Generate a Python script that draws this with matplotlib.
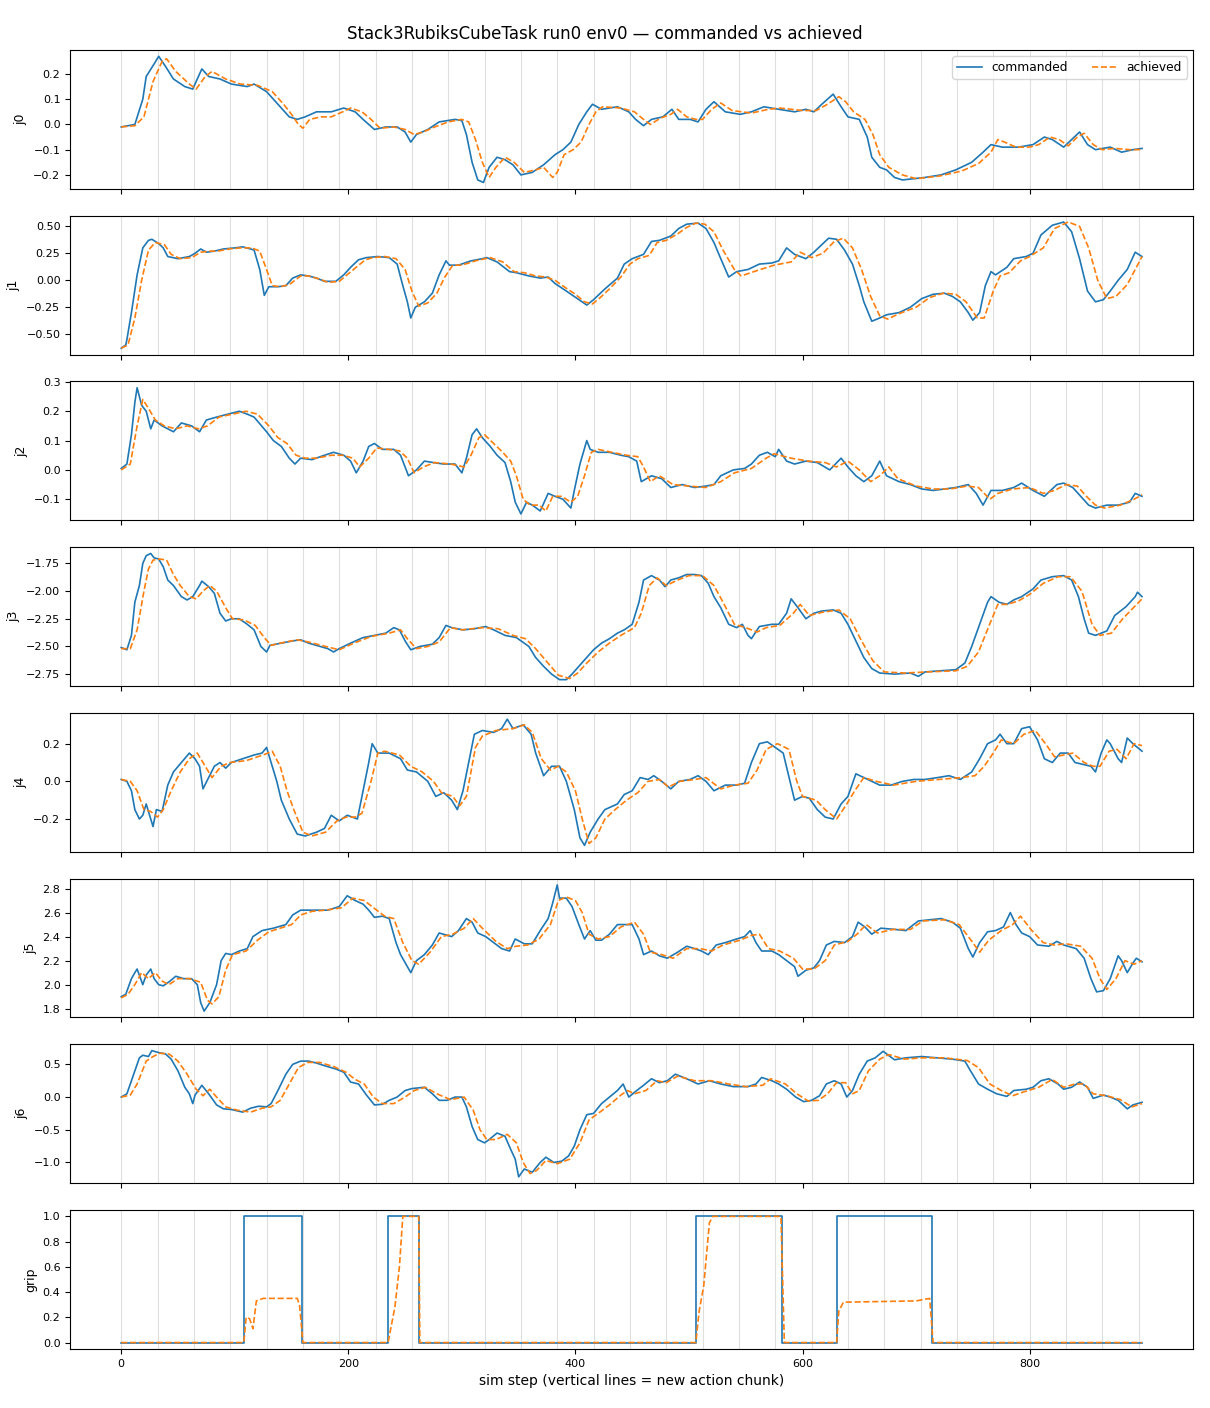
import numpy as np
import matplotlib.pyplot as plt

# keypoints: (sim step, joint value)
j0_cmd = [(0, -0.01), (12, 0.0), (19, 0.1), (22, 0.19), (29, 0.24), (33, 0.27), (39, 0.23), (46, 0.18), (56, 0.15),
          (63, 0.14), (71, 0.22), (77, 0.19), (87, 0.18), (97, 0.16), (111, 0.15), (117, 0.16), (128, 0.13),
          (138, 0.08), (148, 0.03), (155, 0.02), (162, 0.03), (172, 0.05), (185, 0.05), (196, 0.065), (206, 0.05),
          (213, 0.02), (223, -0.02), (233, -0.01), (243, -0.01), (250, -0.03), (255, -0.07), (260, -0.04),
          (270, -0.02), (280, 0.01), (294, 0.02), (300, 0.015), (304, -0.04), (309, -0.15), (314, -0.22),
          (319, -0.23), (324, -0.17), (331, -0.13), (338, -0.14), (345, -0.16), (352, -0.2), (362, -0.19),
          (372, -0.16), (382, -0.12), (389, -0.1), (396, -0.07), (403, 0.0), (410, 0.05), (415, 0.08), (423, 0.06),
          (437, 0.07), (447, 0.05), (453, 0.02), (460, -0.005), (467, 0.02), (477, 0.03), (485, 0.06), (491, 0.02),
          (501, 0.02), (508, 0.01), (515, 0.06), (522, 0.09), (532, 0.05), (545, 0.04), (555, 0.05), (566, 0.07),
          (579, 0.06), (593, 0.05), (603, 0.06), (610, 0.05), (617, 0.08), (627, 0.12), (634, 0.07), (640, 0.03),
          (650, 0.02), (657, -0.05), (661, -0.13), (668, -0.17), (674, -0.18), (681, -0.21), (688, -0.22),
          (698, -0.215), (708, -0.21), (722, -0.2), (735, -0.18), (749, -0.15), (759, -0.11), (766, -0.08),
          (776, -0.09), (790, -0.09), (803, -0.08), (813, -0.05), (820, -0.06), (830, -0.09), (837, -0.06),
          (844, -0.03), (851, -0.08), (858, -0.1), (871, -0.09), (881, -0.11), (891, -0.1), (899, -0.095)]
j0_ach = [(0, -0.01), (12, -0.005), (20, 0.03), (28, 0.17), (36, 0.25), (40, 0.26), (48, 0.21), (60, 0.16),
          (66, 0.14), (74, 0.19), (80, 0.21), (92, 0.18), (105, 0.16), (120, 0.155), (133, 0.13), (143, 0.08),
          (150, 0.04), (156, 0.0), (160, -0.015), (166, 0.02), (176, 0.03), (185, 0.03), (195, 0.05), (202, 0.065),
          (212, 0.05), (220, 0.02), (228, -0.015), (240, -0.01), (250, -0.02), (258, -0.04), (266, -0.03),
          (276, -0.01), (288, 0.01), (300, 0.02), (306, 0.01), (312, -0.06), (318, -0.15), (324, -0.21),
          (330, -0.17), (338, -0.13), (346, -0.15), (355, -0.19), (365, -0.18), (372, -0.17), (380, -0.21),
          (384, -0.19), (390, -0.12), (398, -0.1), (405, -0.07), (412, 0.0), (418, 0.05), (424, 0.07), (440, 0.065),
          (452, 0.05), (460, 0.02), (466, 0.0), (475, 0.025), (484, 0.04), (490, 0.06), (498, 0.03), (506, 0.02),
          (512, 0.02), (520, 0.06), (528, 0.085), (538, 0.055), (555, 0.045), (570, 0.06), (580, 0.065),
          (600, 0.055), (612, 0.055), (622, 0.08), (632, 0.11), (638, 0.09), (645, 0.05), (655, 0.02), (662, -0.04),
          (668, -0.12), (676, -0.17), (688, -0.2), (700, -0.215), (720, -0.205), (740, -0.185), (755, -0.155),
          (766, -0.11), (772, -0.06), (778, -0.07), (788, -0.09), (800, -0.09), (808, -0.08), (818, -0.05),
          (826, -0.06), (834, -0.085), (842, -0.05), (848, -0.035), (856, -0.08), (864, -0.1), (875, -0.095),
          (888, -0.1), (899, -0.1)]

j1_cmd = [(0, -0.63), (4, -0.6), (5, -0.55), (9, -0.3), (14, 0.05), (19, 0.3), (24, 0.37), (27, 0.38), (33, 0.34),
          (37, 0.3), (41, 0.22), (50, 0.2), (60, 0.22), (65, 0.25), (70, 0.29), (75, 0.26), (82, 0.27), (90, 0.29),
          (100, 0.3), (107, 0.31), (114, 0.29), (117, 0.28), (122, 0.1), (126, -0.14), (130, -0.06), (138, -0.06),
          (145, -0.05), (151, 0.02), (158, 0.05), (165, 0.04), (172, 0.02), (179, -0.01), (189, -0.01), (196, 0.05),
          (202, 0.12), (209, 0.19), (216, 0.21), (226, 0.22), (236, 0.21), (243, 0.15), (248, -0.05), (252, -0.2),
          (255, -0.35), (259, -0.25), (267, -0.2), (274, -0.12), (280, 0.05), (286, 0.18), (289, 0.14), (297, 0.14),
          (308, 0.18), (318, 0.2), (322, 0.21), (331, 0.17), (342, 0.08), (348, 0.07), (359, 0.04), (369, 0.02),
          (376, 0.03), (382, -0.03), (392, -0.1), (403, -0.18), (410, -0.23), (416, -0.18), (426, -0.08),
          (437, 0.02), (443, 0.15), (450, 0.2), (460, 0.24), (467, 0.36), (474, 0.37), (484, 0.41), (491, 0.48),
          (498, 0.52), (508, 0.53), (515, 0.48), (522, 0.35), (528, 0.2), (535, 0.03), (542, 0.08), (552, 0.1),
          (562, 0.15), (573, 0.16), (579, 0.18), (586, 0.3), (593, 0.24), (603, 0.2), (610, 0.26), (617, 0.33),
          (623, 0.39), (630, 0.38), (637, 0.28), (644, 0.15), (650, -0.05), (654, -0.2), (661, -0.38), (668, -0.35),
          (674, -0.32), (685, -0.3), (695, -0.25), (705, -0.17), (715, -0.13), (725, -0.12), (732, -0.15),
          (739, -0.2), (746, -0.3), (750, -0.37), (756, -0.3), (761, -0.05), (766, 0.08), (770, 0.05), (780, 0.12),
          (786, 0.2), (797, 0.22), (803, 0.25), (810, 0.42), (820, 0.51), (830, 0.54), (837, 0.45), (844, 0.2),
          (851, -0.1), (858, -0.2), (865, -0.18), (871, -0.1), (878, 0.0), (886, 0.1), (893, 0.26), (899, 0.22)]
j1_ach = [(0, -0.63), (6, -0.6), (12, -0.35), (18, 0.0), (24, 0.28), (30, 0.35), (38, 0.33), (44, 0.24), (52, 0.2),
          (62, 0.21), (70, 0.26), (78, 0.27), (85, 0.27), (95, 0.29), (105, 0.3), (115, 0.3), (122, 0.27),
          (128, 0.1), (133, -0.05), (140, -0.06), (148, -0.04), (158, 0.04), (165, 0.04), (175, 0.01), (182, -0.02),
          (192, -0.01), (200, 0.06), (208, 0.13), (215, 0.19), (222, 0.21), (232, 0.22), (242, 0.2), (250, 0.1),
          (256, -0.1), (262, -0.24), (270, -0.21), (278, -0.12), (285, 0.03), (292, 0.14), (300, 0.14), (312, 0.18),
          (325, 0.21), (336, 0.17), (346, 0.08), (355, 0.07), (365, 0.04), (374, 0.03), (382, 0.0), (390, -0.06),
          (400, -0.13), (408, -0.2), (415, -0.22), (422, -0.16), (430, -0.08), (440, 0.03), (448, 0.15), (455, 0.2),
          (465, 0.23), (472, 0.35), (480, 0.37), (490, 0.43), (498, 0.49), (506, 0.53), (514, 0.52), (522, 0.45),
          (530, 0.28), (540, 0.1), (546, 0.04), (560, 0.09), (575, 0.14), (590, 0.17), (598, 0.26), (608, 0.21),
          (618, 0.25), (628, 0.36), (636, 0.39), (644, 0.3), (652, 0.1), (660, -0.15), (668, -0.33), (675, -0.36),
          (685, -0.31), (700, -0.25), (712, -0.16), (724, -0.12), (735, -0.13), (744, -0.2), (754, -0.35),
          (760, -0.35), (768, -0.1), (774, 0.04), (782, 0.07), (792, 0.18), (800, 0.22), (812, 0.3), (822, 0.48),
          (834, 0.54), (844, 0.5), (852, 0.3), (860, 0.0), (868, -0.17), (876, -0.15), (886, -0.04), (899, 0.22)]

j2_cmd = [(0, 0.005), (5, 0.02), (9, 0.12), (12, 0.23), (14, 0.28), (18, 0.22), (22, 0.2), (26, 0.14), (29, 0.17),
          (36, 0.15), (46, 0.13), (53, 0.16), (62, 0.15), (69, 0.13), (75, 0.17), (84, 0.18), (94, 0.19), (104, 0.2),
          (111, 0.19), (117, 0.18), (128, 0.13), (134, 0.1), (141, 0.08), (148, 0.04), (153, 0.02), (158, 0.04),
          (168, 0.035), (179, 0.05), (187, 0.06), (196, 0.05), (202, 0.03), (207, -0.01), (213, 0.03), (218, 0.08),
          (223, 0.09), (230, 0.07), (240, 0.07), (246, 0.05), (253, -0.02), (260, 0.0), (267, 0.03), (275, 0.025),
          (284, 0.02), (294, 0.02), (300, -0.01), (304, 0.04), (309, 0.12), (313, 0.14), (318, 0.11), (325, 0.08),
          (331, 0.05), (338, 0.025), (343, -0.04), (347, -0.11), (352, -0.15), (357, -0.11), (362, -0.12),
          (369, -0.14), (376, -0.08), (382, -0.09), (389, -0.1), (396, -0.13), (399, -0.07), (404, 0.02),
          (410, 0.1), (413, 0.07), (420, 0.06), (430, 0.06), (440, 0.05), (447, 0.045), (454, 0.03), (458, -0.04),
          (467, -0.02), (476, -0.03), (484, -0.06), (494, -0.05), (505, -0.06), (515, -0.055), (522, -0.05),
          (528, -0.02), (539, 0.0), (549, 0.005), (555, 0.02), (562, 0.05), (569, 0.06), (576, 0.045), (579, 0.07),
          (586, 0.03), (593, 0.02), (603, 0.03), (613, 0.025), (624, 0.0), (634, 0.04), (640, 0.01), (647, -0.02),
          (654, -0.04), (661, -0.02), (668, 0.03), (674, -0.02), (685, -0.04), (695, -0.05), (705, -0.065),
          (715, -0.07), (725, -0.065), (735, -0.06), (746, -0.05), (753, -0.08), (759, -0.12), (766, -0.07),
          (776, -0.07), (786, -0.06), (793, -0.045), (803, -0.07), (813, -0.09), (824, -0.05), (830, -0.045),
          (838, -0.06), (845, -0.09), (852, -0.12), (858, -0.13), (868, -0.12), (878, -0.12), (888, -0.11),
          (893, -0.08), (899, -0.09)]
j2_ach = [(0, 0.0), (8, 0.02), (14, 0.15), (19, 0.24), (24, 0.21), (30, 0.17), (38, 0.15), (48, 0.14), (58, 0.15),
          (68, 0.14), (76, 0.15), (86, 0.18), (98, 0.19), (110, 0.2), (120, 0.19), (130, 0.15), (138, 0.11),
          (146, 0.09), (154, 0.05), (162, 0.04), (172, 0.04), (185, 0.05), (195, 0.05), (204, 0.04), (210, 0.01),
          (218, 0.04), (225, 0.075), (235, 0.07), (245, 0.065), (252, 0.04), (258, -0.01), (266, 0.01),
          (276, 0.025), (290, 0.02), (302, 0.01), (308, 0.05), (315, 0.11), (320, 0.12), (328, 0.09), (336, 0.06),
          (343, 0.03), (348, -0.02), (354, -0.1), (360, -0.12), (368, -0.12), (374, -0.14), (380, -0.09),
          (388, -0.09), (396, -0.11), (402, -0.09), (408, -0.02), (414, 0.06), (420, 0.07), (432, 0.06), (445, 0.05),
          (455, 0.045), (460, 0.01), (466, -0.04), (474, -0.02), (486, -0.05), (500, -0.055), (515, -0.06),
          (528, -0.04), (540, -0.01), (555, 0.005), (568, 0.04), (575, 0.055), (590, 0.04), (605, 0.03),
          (620, 0.025), (630, 0.01), (640, 0.03), (650, 0.0), (660, -0.04), (668, -0.02), (676, 0.01), (684, -0.03),
          (700, -0.055), (715, -0.065), (730, -0.065), (745, -0.055), (755, -0.06), (765, -0.1), (772, -0.08),
          (785, -0.065), (800, -0.06), (812, -0.08), (822, -0.07), (832, -0.05), (842, -0.055), (850, -0.09),
          (858, -0.12), (866, -0.13), (880, -0.12), (892, -0.1), (899, -0.085)]

j3_cmd = [(0, -2.51), (5, -2.53), (9, -2.4), (12, -2.1), (16, -1.95), (19, -1.75), (22, -1.68), (26, -1.66),
          (29, -1.7), (33, -1.71), (37, -1.78), (41, -1.9), (46, -1.95), (53, -2.05), (58, -2.08), (63, -2.05),
          (69, -1.95), (71, -1.91), (77, -1.96), (82, -2.02), (87, -2.2), (92, -2.27), (97, -2.25), (104, -2.25),
          (111, -2.3), (117, -2.35), (123, -2.5), (128, -2.55), (131, -2.49), (141, -2.47), (151, -2.45),
          (158, -2.44), (165, -2.47), (175, -2.5), (182, -2.52), (187, -2.55), (192, -2.52), (202, -2.47),
          (213, -2.42), (223, -2.4), (233, -2.38), (240, -2.33), (245, -2.35), (250, -2.45), (255, -2.53),
          (263, -2.5), (274, -2.48), (280, -2.42), (286, -2.31), (291, -2.33), (301, -2.35), (311, -2.34),
          (321, -2.32), (328, -2.35), (338, -2.4), (348, -2.42), (359, -2.5), (365, -2.6), (372, -2.68),
          (379, -2.75), (386, -2.8), (392, -2.8), (397, -2.75), (403, -2.68), (410, -2.6), (416, -2.53),
          (423, -2.47), (430, -2.43), (437, -2.38), (443, -2.35), (450, -2.3), (456, -2.1), (460, -1.9),
          (467, -1.86), (474, -1.9), (479, -1.96), (484, -1.9), (491, -1.88), (498, -1.85), (505, -1.85),
          (511, -1.86), (517, -1.93), (522, -2.05), (528, -2.15), (535, -2.3), (542, -2.33), (547, -2.3),
          (552, -2.4), (555, -2.43), (562, -2.32), (573, -2.3), (579, -2.3), (586, -2.2), (590, -2.07),
          (596, -2.15), (603, -2.25), (610, -2.2), (617, -2.18), (627, -2.17), (634, -2.2), (640, -2.3),
          (647, -2.45), (654, -2.6), (661, -2.7), (668, -2.74), (681, -2.75), (695, -2.74), (702, -2.77),
          (708, -2.73), (722, -2.72), (735, -2.71), (743, -2.65), (749, -2.5), (756, -2.3), (763, -2.1),
          (766, -2.05), (773, -2.1), (780, -2.12), (786, -2.08), (793, -2.05), (803, -1.98), (810, -1.9),
          (820, -1.87), (830, -1.86), (837, -1.9), (843, -2.05), (848, -2.25), (852, -2.38), (858, -2.4),
          (868, -2.36), (875, -2.22), (885, -2.14), (893, -2.05), (895, -2.01), (899, -2.05)]
j3_ach = [(0, -2.52), (8, -2.52), (14, -2.35), (20, -2.0), (24, -1.8), (28, -1.72), (34, -1.71), (40, -1.72),
          (46, -1.85), (52, -1.95), (60, -2.05), (66, -2.07), (72, -2.0), (78, -1.95), (84, -2.0), (92, -2.15),
          (98, -2.25), (108, -2.26), (118, -2.31), (126, -2.42), (132, -2.49), (140, -2.47), (155, -2.44),
          (165, -2.46), (180, -2.5), (192, -2.53), (205, -2.47), (220, -2.41), (236, -2.38), (246, -2.35),
          (252, -2.43), (260, -2.52), (270, -2.5), (280, -2.46), (290, -2.33), (300, -2.35), (318, -2.33),
          (332, -2.34), (345, -2.4), (356, -2.43), (365, -2.52), (375, -2.64), (385, -2.76), (395, -2.79),
          (402, -2.74), (410, -2.65), (420, -2.55), (430, -2.47), (440, -2.4), (452, -2.33), (458, -2.2),
          (465, -1.95), (472, -1.88), (480, -1.95), (490, -1.9), (500, -1.86), (512, -1.86), (522, -1.95),
          (530, -2.1), (540, -2.3), (550, -2.33), (560, -2.37), (568, -2.33), (580, -2.31), (592, -2.2),
          (598, -2.12), (606, -2.22), (618, -2.19), (632, -2.17), (642, -2.25), (652, -2.45), (662, -2.63),
          (672, -2.73), (690, -2.74), (710, -2.73), (735, -2.72), (745, -2.68), (755, -2.55), (764, -2.32),
          (772, -2.12), (780, -2.12), (790, -2.09), (800, -2.03), (812, -1.93), (825, -1.87), (836, -1.87),
          (846, -2.0), (855, -2.3), (862, -2.4), (872, -2.38), (882, -2.25), (899, -2.07)]

j4_cmd = [(0, 0.01), (5, 0.0), (9, -0.05), (12, -0.15), (16, -0.2), (19, -0.18), (22, -0.12), (26, -0.2),
          (28, -0.24), (31, -0.15), (36, -0.16), (41, -0.02), (46, 0.05), (53, 0.1), (60, 0.15), (65, 0.12),
          (69, 0.08), (72, -0.04), (77, 0.02), (82, 0.08), (87, 0.1), (92, 0.07), (97, 0.1), (107, 0.12),
          (117, 0.14), (124, 0.15), (128, 0.18), (131, 0.12), (137, 0.0), (141, -0.1), (148, -0.2), (155, -0.28),
          (162, -0.29), (172, -0.27), (179, -0.25), (185, -0.18), (192, -0.21), (199, -0.18), (208, -0.2),
          (213, -0.05), (218, 0.1), (221, 0.2), (226, 0.15), (236, 0.15), (246, 0.12), (252, 0.06), (260, 0.05),
          (270, 0.0), (277, -0.08), (284, -0.06), (291, -0.1), (296, -0.15), (301, -0.05), (306, 0.1), (311, 0.25),
          (318, 0.27), (328, 0.26), (335, 0.28), (340, 0.33), (345, 0.28), (354, 0.3), (361, 0.25), (365, 0.15),
          (372, 0.03), (379, 0.08), (386, 0.08), (392, 0.0), (399, -0.15), (404, -0.3), (408, -0.34), (413, -0.27),
          (420, -0.2), (426, -0.15), (437, -0.12), (443, -0.07), (450, -0.05), (457, 0.02), (464, 0.01),
          (469, 0.03), (476, 0.0), (484, -0.04), (491, 0.0), (501, 0.01), (508, 0.03), (515, 0.0), (522, -0.05),
          (532, -0.02), (542, -0.02), (549, -0.01), (555, 0.1), (562, 0.2), (569, 0.21), (576, 0.18), (583, 0.15),
          (587, 0.05), (593, -0.1), (600, -0.08), (606, -0.09), (613, -0.15), (620, -0.19), (627, -0.2),
          (634, -0.12), (640, -0.08), (647, 0.04), (654, 0.02), (661, 0.0), (668, -0.02), (678, -0.02), (688, 0.0),
          (698, 0.01), (708, 0.01), (719, 0.02), (729, 0.03), (739, 0.01), (749, 0.05), (756, 0.12), (763, 0.2),
          (770, 0.22), (774, 0.25), (780, 0.2), (786, 0.2), (793, 0.28), (800, 0.29), (807, 0.22), (813, 0.12),
          (820, 0.1), (827, 0.15), (834, 0.15), (840, 0.1), (847, 0.09), (854, 0.08), (858, 0.05), (863, 0.15),
          (868, 0.22), (871, 0.2), (878, 0.12), (881, 0.1), (886, 0.23), (891, 0.2), (899, 0.16)]
j4_ach = [(0, 0.01), (8, 0.0), (14, -0.05), (20, -0.15), (26, -0.16), (32, -0.19), (37, -0.15), (44, -0.05),
          (52, 0.05), (60, 0.12), (67, 0.15), (74, 0.08), (80, 0.02), (88, 0.08), (96, 0.1), (110, 0.11),
          (125, 0.14), (133, 0.16), (140, 0.08), (146, -0.05), (152, -0.15), (160, -0.27), (168, -0.29),
          (180, -0.27), (190, -0.21), (198, -0.19), (206, -0.19), (212, -0.17), (220, 0.0), (226, 0.15),
          (232, 0.16), (245, 0.14), (255, 0.08), (265, 0.05), (275, 0.0), (282, -0.06), (292, -0.08), (298, -0.13),
          (304, -0.08), (312, 0.18), (318, 0.24), (330, 0.27), (345, 0.28), (355, 0.3), (362, 0.26), (370, 0.12),
          (378, 0.06), (385, 0.08), (392, 0.05), (400, -0.05), (406, -0.2), (412, -0.33), (418, -0.3),
          (426, -0.2), (435, -0.15), (445, -0.1), (455, -0.06), (464, 0.0), (474, 0.01), (482, -0.03), (492, 0.0),
          (505, 0.01), (515, 0.02), (528, -0.04), (540, -0.02), (552, -0.01), (560, 0.06), (568, 0.17), (578, 0.2),
          (588, 0.17), (595, 0.0), (600, -0.08), (612, -0.1), (620, -0.15), (630, -0.2), (638, -0.13),
          (646, -0.05), (654, 0.02), (665, 0.0), (680, -0.02), (700, 0.0), (720, 0.01), (740, 0.02), (752, 0.03),
          (760, 0.08), (768, 0.15), (775, 0.22), (786, 0.2), (795, 0.25), (805, 0.27), (814, 0.2), (822, 0.13),
          (830, 0.14), (838, 0.15), (848, 0.1), (856, 0.08), (862, 0.08), (870, 0.16), (877, 0.17), (885, 0.12),
          (892, 0.2), (899, 0.19)]

j5_cmd = [(0, 1.9), (4, 1.92), (9, 2.05), (12, 2.1), (14, 2.13), (19, 2.0), (22, 2.08), (26, 2.13), (29, 2.05),
          (33, 2.0), (37, 1.99), (43, 2.03), (48, 2.07), (55, 2.05), (62, 2.05), (67, 2.0), (70, 1.85), (73, 1.78),
          (78, 1.85), (84, 2.0), (88, 2.2), (92, 2.26), (97, 2.25), (104, 2.28), (111, 2.3), (116, 2.4),
          (124, 2.45), (134, 2.47), (145, 2.5), (151, 2.58), (158, 2.62), (165, 2.62), (172, 2.62), (182, 2.62),
          (192, 2.65), (199, 2.74), (206, 2.7), (213, 2.67), (218, 2.62), (223, 2.56), (230, 2.57), (236, 2.55),
          (242, 2.35), (246, 2.25), (252, 2.15), (255, 2.1), (260, 2.2), (267, 2.25), (274, 2.33), (280, 2.43),
          (291, 2.4), (297, 2.45), (304, 2.55), (309, 2.52), (314, 2.43), (321, 2.4), (328, 2.35), (335, 2.3),
          (342, 2.28), (347, 2.38), (355, 2.34), (362, 2.34), (369, 2.45), (376, 2.55), (380, 2.68), (384, 2.83),
          (386, 2.72), (392, 2.72), (397, 2.65), (403, 2.5), (408, 2.38), (413, 2.45), (418, 2.37), (423, 2.37),
          (430, 2.42), (437, 2.5), (443, 2.5), (450, 2.5), (456, 2.38), (460, 2.25), (467, 2.28), (474, 2.24),
          (481, 2.22), (490, 2.27), (498, 2.32), (505, 2.3), (511, 2.28), (517, 2.25), (524, 2.33), (532, 2.35),
          (542, 2.38), (549, 2.4), (554, 2.45), (559, 2.35), (564, 2.28), (573, 2.28), (579, 2.25), (586, 2.2),
          (593, 2.15), (596, 2.07), (603, 2.12), (610, 2.14), (615, 2.2), (621, 2.33), (628, 2.36), (637, 2.35),
          (644, 2.4), (649, 2.52), (655, 2.48), (661, 2.42), (669, 2.47), (681, 2.46), (691, 2.45), (702, 2.53),
          (712, 2.54), (722, 2.55), (732, 2.52), (739, 2.47), (746, 2.3), (750, 2.23), (756, 2.35), (763, 2.44),
          (770, 2.45), (777, 2.48), (783, 2.6), (788, 2.5), (793, 2.43), (800, 2.4), (807, 2.33), (817, 2.32),
          (824, 2.36), (830, 2.33), (841, 2.3), (848, 2.22), (854, 2.05), (859, 1.94), (865, 1.95), (871, 2.05),
          (878, 2.24), (881, 2.2), (886, 2.1), (891, 2.18), (894, 2.22), (899, 2.19)]
j5_ach = [(0, 1.89), (6, 1.92), (12, 2.0), (18, 2.1), (24, 2.05), (30, 2.1), (36, 2.03), (42, 2.0), (50, 2.05),
          (60, 2.05), (70, 2.02), (76, 1.87), (80, 1.84), (86, 1.9), (92, 2.12), (98, 2.25), (110, 2.28),
          (120, 2.37), (130, 2.44), (140, 2.47), (150, 2.5), (158, 2.58), (168, 2.61), (180, 2.62), (194, 2.64),
          (204, 2.72), (214, 2.7), (225, 2.62), (232, 2.57), (240, 2.55), (248, 2.35), (256, 2.2), (262, 2.17),
          (272, 2.27), (282, 2.4), (292, 2.42), (302, 2.47), (310, 2.55), (318, 2.47), (330, 2.36), (340, 2.3),
          (348, 2.32), (358, 2.33), (368, 2.38), (378, 2.5), (385, 2.7), (392, 2.73), (400, 2.7), (406, 2.6),
          (412, 2.42), (420, 2.38), (430, 2.4), (440, 2.48), (452, 2.52), (460, 2.42), (466, 2.27), (476, 2.25),
          (486, 2.22), (498, 2.3), (510, 2.3), (520, 2.28), (530, 2.33), (545, 2.37), (555, 2.41), (562, 2.42),
          (570, 2.3), (580, 2.28), (592, 2.22), (600, 2.13), (610, 2.13), (620, 2.2), (628, 2.33), (640, 2.36),
          (648, 2.42), (656, 2.5), (666, 2.43), (680, 2.46), (695, 2.46), (706, 2.53), (725, 2.54), (738, 2.5),
          (750, 2.35), (756, 2.27), (764, 2.37), (775, 2.45), (785, 2.5), (792, 2.57), (802, 2.45), (812, 2.35),
          (822, 2.33), (832, 2.34), (845, 2.32), (855, 2.22), (862, 2.05), (868, 1.96), (876, 2.05), (884, 2.2),
          (892, 2.17), (899, 2.2)]

j6_cmd = [(0, 0.0), (5, 0.05), (10, 0.3), (16, 0.6), (19, 0.64), (24, 0.62), (27, 0.71), (33, 0.68), (39, 0.66),
          (44, 0.58), (50, 0.4), (56, 0.15), (60, 0.05), (63, -0.1), (65, 0.03), (71, 0.18), (77, 0.05),
          (84, -0.12), (90, -0.18), (97, -0.19), (107, -0.23), (114, -0.17), (121, -0.14), (128, -0.15),
          (132, -0.1), (138, 0.1), (145, 0.35), (151, 0.5), (158, 0.55), (165, 0.55), (172, 0.52), (179, 0.48),
          (189, 0.43), (196, 0.38), (202, 0.23), (209, 0.2), (216, 0.03), (223, -0.12), (230, -0.11), (236, -0.05),
          (243, 0.0), (250, 0.1), (256, 0.13), (267, 0.15), (274, 0.05), (280, -0.05), (287, -0.05), (294, 0.0),
          (300, 0.0), (304, -0.15), (309, -0.45), (314, -0.65), (320, -0.7), (324, -0.65), (331, -0.55),
          (338, -0.6), (343, -0.8), (347, -0.95), (350, -1.22), (355, -1.1), (362, -1.15), (369, -1.0),
          (374, -0.92), (381, -1.0), (388, -0.98), (394, -0.9), (399, -0.75), (404, -0.5), (410, -0.27),
          (416, -0.25), (423, -0.1), (430, 0.0), (437, 0.1), (442, 0.2), (447, 0.0), (454, 0.1), (460, 0.18),
          (467, 0.28), (474, 0.22), (481, 0.25), (488, 0.35), (498, 0.28), (508, 0.2), (518, 0.25), (528, 0.2),
          (539, 0.16), (552, 0.16), (559, 0.2), (564, 0.3), (573, 0.25), (579, 0.2), (586, 0.12), (594, 0.0),
          (601, -0.07), (608, -0.05), (615, 0.02), (621, 0.2), (628, 0.25), (634, 0.2), (639, 0.0), (644, 0.1),
          (650, 0.35), (657, 0.55), (664, 0.6), (671, 0.7), (681, 0.57), (691, 0.6), (705, 0.62), (719, 0.6),
          (732, 0.58), (743, 0.55), (748, 0.4), (755, 0.2), (763, 0.12), (771, 0.05), (780, 0.01), (786, 0.1),
          (797, 0.12), (803, 0.15), (810, 0.25), (817, 0.28), (825, 0.2), (830, 0.12), (837, 0.15), (844, 0.23),
          (851, 0.15), (856, -0.02), (865, 0.03), (871, 0.0), (878, -0.05), (886, -0.18), (891, -0.12),
          (899, -0.08)]
j6_ach = [(0, 0.0), (8, 0.03), (14, 0.2), (22, 0.55), (28, 0.62), (34, 0.67), (42, 0.66), (50, 0.55), (58, 0.35),
          (66, 0.12), (72, 0.02), (78, 0.12), (84, 0.0), (92, -0.15), (102, -0.2), (114, -0.23), (124, -0.17),
          (132, -0.15), (140, -0.05), (148, 0.2), (156, 0.45), (164, 0.53), (175, 0.53), (188, 0.46), (198, 0.38),
          (206, 0.27), (214, 0.2), (222, 0.0), (230, -0.1), (240, -0.1), (250, 0.0), (258, 0.1), (268, 0.15),
          (278, 0.05), (290, -0.04), (302, 0.0), (310, -0.2), (316, -0.5), (322, -0.65), (330, -0.65),
          (340, -0.57), (348, -0.7), (354, -1.0), (360, -1.17), (366, -1.12), (374, -0.97), (384, -1.02),
          (395, -0.95), (404, -0.7), (412, -0.35), (420, -0.25), (430, -0.12), (440, 0.03), (446, 0.1), (452, 0.05),
          (462, 0.1), (472, 0.25), (480, 0.22), (490, 0.32), (505, 0.25), (520, 0.25), (535, 0.2), (550, 0.16),
          (565, 0.18), (572, 0.28), (585, 0.2), (595, 0.05), (605, -0.06), (614, -0.05), (622, 0.05), (630, 0.22),
          (638, 0.22), (644, 0.05), (650, 0.1), (658, 0.4), (668, 0.58), (676, 0.65), (690, 0.58), (705, 0.6),
          (725, 0.6), (745, 0.56), (755, 0.45), (765, 0.2), (775, 0.1), (785, 0.02), (795, 0.08), (808, 0.15),
          (820, 0.27), (830, 0.15), (840, 0.2), (848, 0.2), (856, 0.05), (868, 0.02), (880, -0.04), (890, -0.15),
          (899, -0.1)]

grip_cmd = [(0, 0), (108, 0), (108, 1), (159, 1), (159, 0), (235, 0), (235, 1), (262, 1), (262, 0), (506, 0),
            (506, 1), (582, 1), (582, 0), (630, 0), (630, 1), (714, 1), (714, 0), (899, 0)]
grip_ach = [(0, 0), (108, 0), (110, 0.2), (113, 0.19), (116, 0.11), (119, 0.33), (125, 0.35), (155, 0.35),
            (157, 0.3), (160, 0), (235, 0), (241, 0.28), (245, 0.6), (248, 1.0), (262, 1.0), (263, 0), (506, 0),
            (509, 0.25), (513, 0.45), (518, 0.95), (521, 1.0), (581, 1.0), (584, 0), (630, 0), (632, 0.25),
            (636, 0.32), (700, 0.33), (712, 0.35), (715, 0), (899, 0)]

panels = [("j0", j0_cmd, j0_ach), ("j1", j1_cmd, j1_ach), ("j2", j2_cmd, j2_ach), ("j3", j3_cmd, j3_ach),
          ("j4", j4_cmd, j4_ach), ("j5", j5_cmd, j5_ach), ("j6", j6_cmd, j6_ach), ("grip", grip_cmd, grip_ach)]

chunk_len = 32
n_steps = 900
chunk_starts = np.arange(0, n_steps, chunk_len)

fig, axes = plt.subplots(len(panels), 1, figsize=(12.1, 14.08), dpi=100, sharex=True)
plt.subplots_adjust(left=0.058, right=0.986, top=0.9645, bottom=0.042, hspace=0.194)

for ax, (name, cmd, ach) in zip(axes, panels):
    for s in chunk_starts:
        ax.axvline(s, color='0.5', lw=0.8, alpha=0.25, zorder=0)
    cx, cy = zip(*cmd)
    axx, ay = zip(*ach)
    ax.plot(cx, cy, '-', color='tab:blue', lw=1.2, label='commanded')
    ax.plot(axx, ay, '--', color='tab:orange', lw=1.2, label='achieved')
    ax.set_ylabel(name, fontsize=9)
    ax.tick_params(labelsize=8)

axes[0].legend(loc='upper right', ncol=2, fontsize=8.8)
axes[-1].set_xlabel('sim step (vertical lines = new action chunk)', fontsize=10)
fig.suptitle('Stack3RubiksCubeTask run0 env0 \u2014 commanded vs achieved', fontsize=12, y=0.982)

plt.savefig('out.png')
